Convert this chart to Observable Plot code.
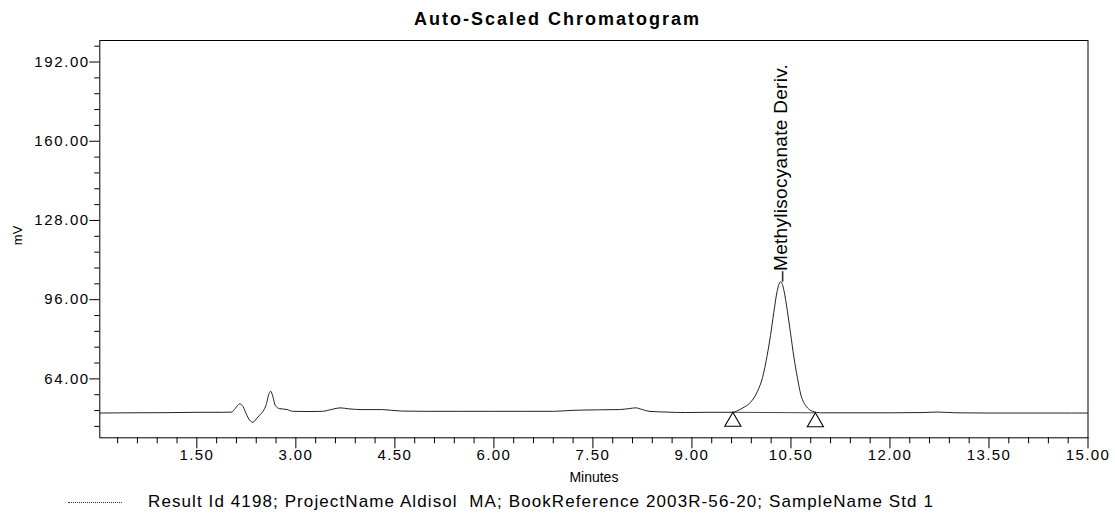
<!DOCTYPE html>
<html>
<head>
<meta charset="utf-8">
<script src="https://cdn.jsdelivr.net/npm/d3@7"></script>
<script src="https://cdn.jsdelivr.net/npm/@observablehq/plot@0.6"></script>
<style>
  body { margin: 0; background: #fff; font-family: "Liberation Sans", Arial, sans-serif; color: #000; }
  #title { width: 1115px; height: 18px; padding-top: 10px; line-height: 18px; font-size: 18px; font-weight: bold; text-align: center; letter-spacing: 2px; }
  #chart svg { display: block; }
  #legend { position: relative; width: 1115px; height: 27px; }
  #legend .swatch { position: absolute; left: 68px; top: 14px; width: 54px; border-top: 1px dotted #333; }
  #legend .txt { position: absolute; left: 148px; top: 5px; font-size: 17px; line-height: 17px; letter-spacing: 1.1px; white-space: pre; }
</style>
</head>
<body>
<div id="title">Auto-Scaled Chromatogram</div>
<div id="chart"></div>
<div id="legend"><span class="swatch"></span><span class="txt">Result Id 4198; ProjectName Aldisol  MA; BookReference 2003R-56-20; SampleName Std 1</span></div>
<script>
// Chromatogram trace (minutes, mV)
const times = [0.03, 0.5, 1.0, 1.5, 1.9, 2.03, 2.08, 2.15, 2.2, 2.25, 2.30, 2.35, 2.40, 2.45, 2.50, 2.55, 2.60, 2.62, 2.65, 2.69, 2.75, 2.87, 2.95, 3.2, 3.4, 3.55, 3.67, 3.8, 4.0, 4.3, 4.6, 5.0, 5.5, 6.0, 6.5, 6.9, 7.2, 7.6, 7.9, 8.05, 8.15, 8.25, 8.35, 8.6, 8.9, 9.2, 9.5, 9.61, 9.68, 9.74, 9.80, 9.89, 9.99, 10.07, 10.14, 10.19, 10.24, 10.29, 10.32, 10.344, 10.37, 10.394, 10.445, 10.495, 10.545, 10.597, 10.647, 10.723, 10.78, 10.824, 10.95, 11.5, 12.0, 12.5, 12.72, 13.0, 13.5, 14.0, 14.5, 15.0];
const signal = [50.2, 50.3, 50.35, 50.5, 50.5, 50.6, 52.0, 53.9, 52.8, 49.8, 47.3, 46.5, 47.8, 49.3, 50.8, 53.5, 58.5, 59.0, 57.0, 53.2, 52.0, 51.6, 50.9, 50.8, 50.9, 51.7, 52.3, 51.9, 51.6, 51.6, 51.0, 50.9, 50.9, 50.9, 50.9, 50.9, 51.3, 51.5, 51.6, 52.0, 52.3, 51.6, 50.9, 50.6, 50.4, 50.5, 50.5, 50.5, 51.0, 51.8, 52.7, 54.6, 58.8, 64.6, 73.5, 81.5, 90.8, 99.3, 102.3, 103.2, 102.2, 99.7, 91.6, 82.2, 72.7, 64.6, 57.9, 53.2, 51.6, 50.9, 50.3, 50.3, 50.3, 50.4, 50.6, 50.3, 50.2, 50.2, 50.2, 50.2];

// Integration baseline markers (start / end of the peak)
const markerTimes = [9.62, 10.87];
const markerValues = [50.5, 50.3];

// Peak annotation
const peakNames = ["Methylisocyanate Deriv."];
const peakTimes = [10.344];
const peakValues = [103.2];

// Axis ticks
const xMajor = [1.5, 3, 4.5, 6, 7.5, 9, 10.5, 12, 13.5, 15];
const xMinor = [0.3, 0.6, 0.9, 1.2, 1.8, 2.1, 2.4, 2.7, 3.3, 3.6, 3.9, 4.2, 4.8, 5.1, 5.4, 5.7, 6.3, 6.6, 6.9, 7.2, 7.8, 8.1, 8.4, 8.7, 9.3, 9.6, 9.9, 10.2, 10.8, 11.1, 11.4, 11.7, 12.3, 12.6, 12.9, 13.2, 13.8, 14.1, 14.4, 14.7];
const yMajor = [64, 96, 128, 160, 192];
const yMinor = [44.8, 51.2, 57.6, 70.4, 76.8, 83.2, 89.6, 102.4, 108.8, 115.2, 121.6, 134.4, 140.8, 147.2, 153.6, 166.4, 172.8, 179.2, 185.6, 198.4];

const trace = times.map((t, i) => ({t, v: signal[i]}));
const markers = markerTimes.map((t, i) => ({t, v: markerValues[i]}));
const peaks = peakNames.map((name, i) => ({name: "\u2013" + name, t: peakTimes[i], v: peakValues[i]}));

const font = "Liberation Sans, Arial, sans-serif";

const chart = Plot.plot({
  width: 1115,
  height: 460,
  marginLeft: 99.3,
  marginRight: 27.5,
  marginTop: 12,
  marginBottom: 50.7,
  style: {fontFamily: font, color: "#000", background: "#fff", overflow: "visible"},
  x: {domain: [0.03, 15]},
  y: {domain: [40.2, 200.7]},
  marks: [
    Plot.axisY(yMinor, {tickSize: 5, tickFormat: () => "", label: null}),
    Plot.axisY(yMajor, {tickSize: 10, tickPadding: 0, tickFormat: d => d.toFixed(2), fontSize: 15, label: null}),
    Plot.axisX(xMinor, {tickSize: 6, tickFormat: () => "", label: null}),
    Plot.axisX(xMajor, {tickSize: 11, tickPadding: 1, tickFormat: d => d.toFixed(2), fontSize: 15, label: null}),
    Plot.frame({stroke: "#000", strokeWidth: 1}),
    Plot.line(markers, {x: "t", y: "v", stroke: "#333", strokeWidth: 0.9}),
    Plot.line(trace, {x: "t", y: "v", stroke: "#222", strokeWidth: 1, curve: "monotone-x"}),
    Plot.dot(markers, {x: "t", y: "v", symbol: "triangle", r: 6, stroke: "#000", fill: "#fff", strokeWidth: 1.1, dy: 9.3}),
    Plot.text(peaks, {x: "t", y: "v", text: "name", rotate: -90, textAnchor: "start", lineAnchor: "middle", fontSize: 19, fill: "#000"}),
    Plot.text(["Minutes"], {frameAnchor: "bottom", dy: 44, fontSize: 14, fill: "#000"}),
    Plot.text(["mV"], {frameAnchor: "left", rotate: -90, dx: -82, dy: 6, fontSize: 13, fill: "#000"})
  ]
});

const svg = d3.select(chart);
svg.selectAll('g[aria-label="y-axis tick label"] text').style("letter-spacing", "1.6px");
svg.selectAll('g[aria-label="x-axis tick label"] text').style("letter-spacing", "1.4px");
svg.selectAll('g[aria-label="text"] text').filter(function () { return this.textContent.indexOf("Methyl") >= 0; }).style("letter-spacing", "0.3px");
document.getElementById("chart").appendChild(chart);
</script>
</body>
</html>
